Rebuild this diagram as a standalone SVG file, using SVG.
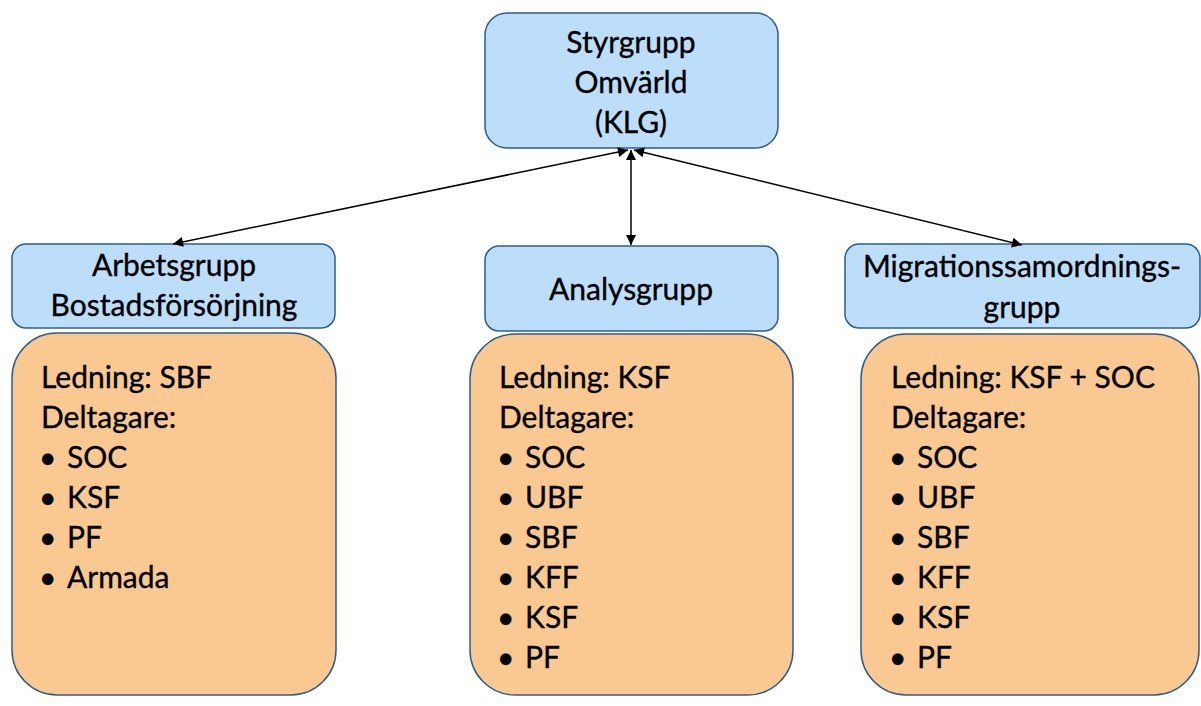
<svg xmlns="http://www.w3.org/2000/svg" width="1201" height="706" viewBox="0 0 1201 706">
<style>
.blue{fill:#BDDEFA;stroke:#2D5E8E;stroke-width:1.5}
.orange{fill:#FAC991;stroke:#2D5E8E;stroke-width:1.5}
text{font-family:Lato,"Open Sans",sans-serif;font-size:30px;fill:#000;stroke:#000;stroke-width:0.35}
.c{text-anchor:middle}
.conn line{stroke:#000;stroke-width:1.5;fill:none}
</style>
<defs>
<marker id="ah" viewBox="0 0 10 10" refX="10" refY="5" markerWidth="11" markerHeight="10" markerUnits="userSpaceOnUse" orient="auto-start-reverse">
<path d="M0,0 L10,5 L0,10 z" fill="#000"/>
</marker>
</defs>
<rect width="1201" height="706" fill="#fff"/>
<g id="styrgrupp">
<rect class="blue" x="485" y="13" width="293" height="135" rx="22"/>
<text class="c" x="631" y="53">Styrgrupp</text>
<text class="c" x="631" y="93">Omvärld</text>
<text class="c" x="631" y="133">(KLG)</text>
</g>
<g id="arbetsgrupp">
<rect class="blue" x="12" y="244" width="323" height="84" rx="14"/>
<text class="c" x="174" y="276">Arbetsgrupp</text>
<text class="c" x="174" y="316">Bostadsförsörjning</text>
</g>
<g id="analysgrupp">
<rect class="blue" x="485" y="246" width="293" height="85" rx="14"/>
<text class="c" x="631" y="300">Analysgrupp</text>
</g>
<g id="migration">
<rect class="blue" x="845" y="244" width="355" height="84" rx="14"/>
<text class="c" x="1022" y="277">Migrationssamordnings-</text>
<text class="c" x="1022" y="318">grupp</text>
</g>
<g id="arbetsgrupp-info">
<rect class="orange" x="12" y="333" width="324" height="362" rx="45"/>
<text x="41" y="388">Ledning: SBF</text>
<text x="41" y="428">Deltagare:</text>
<text x="39" y="468">•</text><text x="67" y="468">SOC</text>
<text x="39" y="508">•</text><text x="67" y="508">KSF</text>
<text x="39" y="548">•</text><text x="67" y="548">PF</text>
<text x="39" y="588">•</text><text x="67" y="588">Armada</text>
</g>
<g id="analysgrupp-info">
<rect class="orange" x="470" y="334" width="323" height="361" rx="45"/>
<text x="499" y="388">Ledning: KSF</text>
<text x="499" y="428">Deltagare:</text>
<text x="497" y="468">•</text><text x="525" y="468">SOC</text>
<text x="497" y="508">•</text><text x="525" y="508">UBF</text>
<text x="497" y="548">•</text><text x="525" y="548">SBF</text>
<text x="497" y="588">•</text><text x="525" y="588">KFF</text>
<text x="497" y="628">•</text><text x="525" y="628">KSF</text>
<text x="497" y="668">•</text><text x="525" y="668">PF</text>
</g>
<g id="migration-info">
<rect class="orange" x="861" y="334" width="338" height="361" rx="45"/>
<text x="891" y="388">Ledning: KSF + SOC</text>
<text x="891" y="428">Deltagare:</text>
<text x="889" y="468">•</text><text x="917" y="468">SOC</text>
<text x="889" y="508">•</text><text x="917" y="508">UBF</text>
<text x="889" y="548">•</text><text x="917" y="548">SBF</text>
<text x="889" y="588">•</text><text x="917" y="588">KFF</text>
<text x="889" y="628">•</text><text x="917" y="628">KSF</text>
<text x="889" y="668">•</text><text x="917" y="668">PF</text>
</g>
<g class="conn" id="connectors">
<line x1="628" y1="150" x2="173" y2="244" marker-start="url(#ah)" marker-end="url(#ah)"/>
<line x1="631" y1="150" x2="631" y2="245" marker-start="url(#ah)" marker-end="url(#ah)"/>
<line x1="634" y1="150" x2="1022" y2="245" marker-start="url(#ah)" marker-end="url(#ah)"/>
</g>
</svg>
